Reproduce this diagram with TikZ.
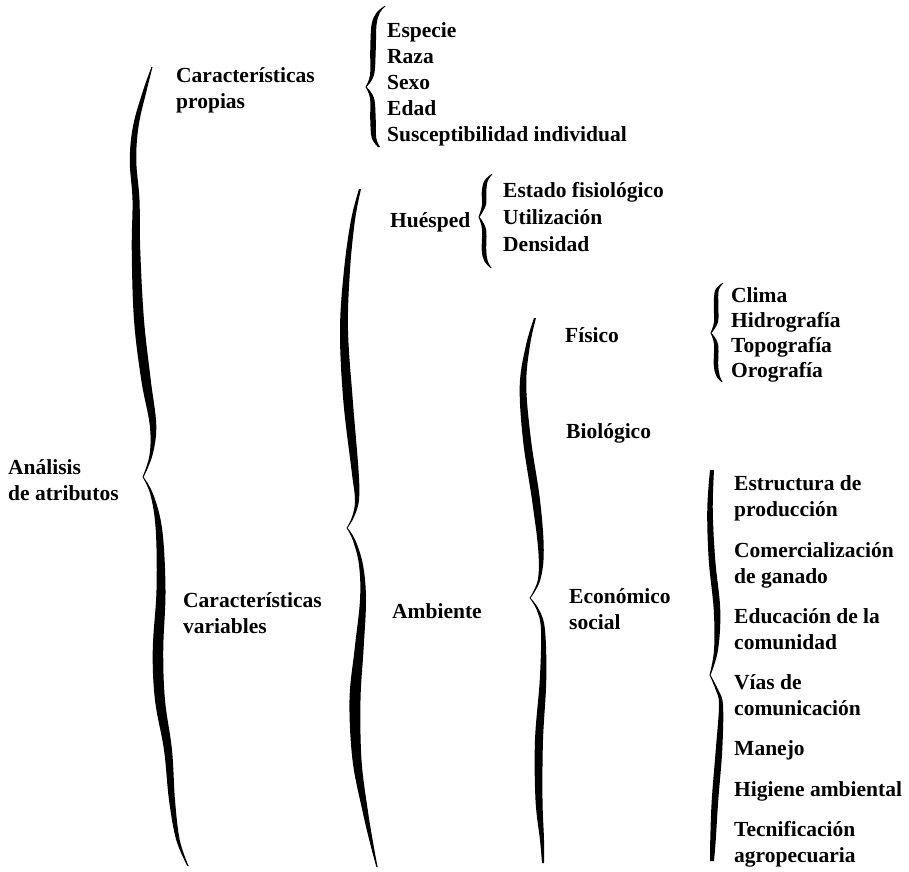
\documentclass[tikz,border=0pt]{standalone}
\usepackage{fontspec}
\setmainfont{Liberation Serif}

% A hand-inked brace stroke: a list of centre points x/y/width,
% filled between its left and right edges.
\newcommand\inkstroke[1]{%
  \gdef\leftedge{}\gdef\rightedge{}%
  \foreach \px/\py/\pw in {#1}{%
    \pgfmathsetmacro\xl{\px-\pw/2}%
    \pgfmathsetmacro\xr{\px+\pw/2}%
    \xdef\leftedge{\leftedge (\xl,\py)}%
    \xdef\rightedge{(\xr,\py) \rightedge}%
  }%
  \edef\inkpath{\noexpand\fill[ink] plot[smooth,tension=0.6] coordinates {\leftedge}
    -- plot[smooth,tension=0.6] coordinates {\rightedge} -- cycle;}%
  \inkpath
}

\begin{document}
\begin{tikzpicture}[x=1pt,y=-1pt,
  ink/.style={fill=black},
  lbl/.style={anchor=base west, inner sep=0pt, align=left,
    font=\fontsize{21.5}{26}\selectfont\bfseries}]
\useasboundingbox (0,0) rectangle (909,871);

% ---- labels (base anchor = baseline of the last line) ----
\node[lbl] (analisis) at (8,500) {Análisis\\de atributos};
\node[lbl] (propias) at (176,108) {Características\\propias};
\node[lbl] (variables) at (183,633) {Características\\variables};

\node[lbl] (especie) at (387,37) {Especie};
\node[lbl] (raza) at (387,63) {Raza};
\node[lbl] (sexo) at (387,89) {Sexo};
\node[lbl] (edad) at (387,115) {Edad};
\node[lbl] (suscept) at (387,141) {Susceptibilidad individual};

\node[lbl] (huesped) at (390,227) {Huésped};
\node[lbl] (estado) at (503,197) {Estado fisiológico};
\node[lbl] (utiliz) at (503,224) {Utilización};
\node[lbl] (densidad) at (503,251) {Densidad};

\node[lbl] (ambiente) at (392,618) {Ambiente};

\node[lbl] (fisico) at (565,342) {Físico};
\node[lbl] (biologico) at (566,438) {Biológico};
\node[lbl] (economico) at (569,629) {Económico\\social};

\node[lbl] (clima) at (731,302) {Clima};
\node[lbl] (hidro) at (731,327) {Hidrografía};
\node[lbl] (topo) at (731,352) {Topografía};
\node[lbl] (oro) at (731,377) {Orografía};

\node[lbl] (estructura) at (734,516) {Estructura de\\producción};
\node[lbl] (comercio) at (734,583) {Comercialización\\de ganado};
\node[lbl] (educacion) at (734,649) {Educación de la\\comunidad};
\node[lbl] (vias) at (734,715) {Vías de\\comunicación};
\node[lbl] (manejo) at (734,755) {Manejo};
\node[lbl] (higiene) at (734,796) {Higiene ambiental};
\node[lbl] (tecnif) at (734,862) {Tecnificación\\agropecuaria};

% ---- braces ----
% Análisis de atributos
\inkstroke{152/67/1, 145/90/3.5, 136/125/5.5, 133/160/6.5, 136/200/7, 136/250/8.5,
  139/320/10, 146/380/9.5, 153/425/6.5, 151/455/3, 143/477/1}
\inkstroke{143/477/1, 152/495/3, 159/530/6.5, 161/590/9, 158/650/10.5, 160/700/10,
  168/750/8, 172/800/6, 178/840/3.5, 188/866/1.2}
% Características propias
\inkstroke{385/6/1.2, 378/13/3.5, 374/25/5, 373/50/5.5, 372/75/4, 366/87/1}
\inkstroke{366/87/1, 372/98/4, 373/120/5.5, 374/138/4.5, 379/147/2}
% Características variables
\inkstroke{360/189/2, 353/220/4, 347/270/6, 344/330/8, 348/400/9.5, 355/470/7,
  357/500/4, 353/517/2, 347/528/1}
\inkstroke{347/528/1, 354/540/2.5, 361/565/4, 363/600/6, 359/650/9, 355/700/11,
  357/760/9, 365/810/5.5, 372/845/3, 377/867/1.2}
% Huésped
\inkstroke{492/174/1.2, 486/181/3.5, 484/192/4.5, 484/205/4, 479/217/1}
\inkstroke{479/217/1, 484/229/4, 484/250/4.5, 486/261/3.5, 491/268/1.2}
% Ambiente
\inkstroke{535/318/2, 528/345/4, 523/385/6.5, 527/440/8, 536/500/8, 541/550/5.5,
  539/580/2.5, 530/598/1}
\inkstroke{530/598/1, 538/610/2.5, 543/630/4, 543/680/6.5, 539/740/8, 539/800/7,
  542/840/4, 543/863/2}
% Físico
\inkstroke{723/283/1.2, 717/290/3.5, 716/305/4.5, 716/322/4, 711/333/1}
\inkstroke{711/333/1, 716/344/4, 716/365/4.5, 718/376/3.5, 722/382/1.2}
% Económico social
\inkstroke{712/470/4, 710/510/5.5, 712/560/6.5, 717/610/6.5, 716/650/4, 710/675/1}
\inkstroke{710/675/1, 717/690/2.5, 721/705/4, 719/750/6.5, 715/800/6.5, 713/840/5.5, 712/861/4}
\end{tikzpicture}
\end{document}
